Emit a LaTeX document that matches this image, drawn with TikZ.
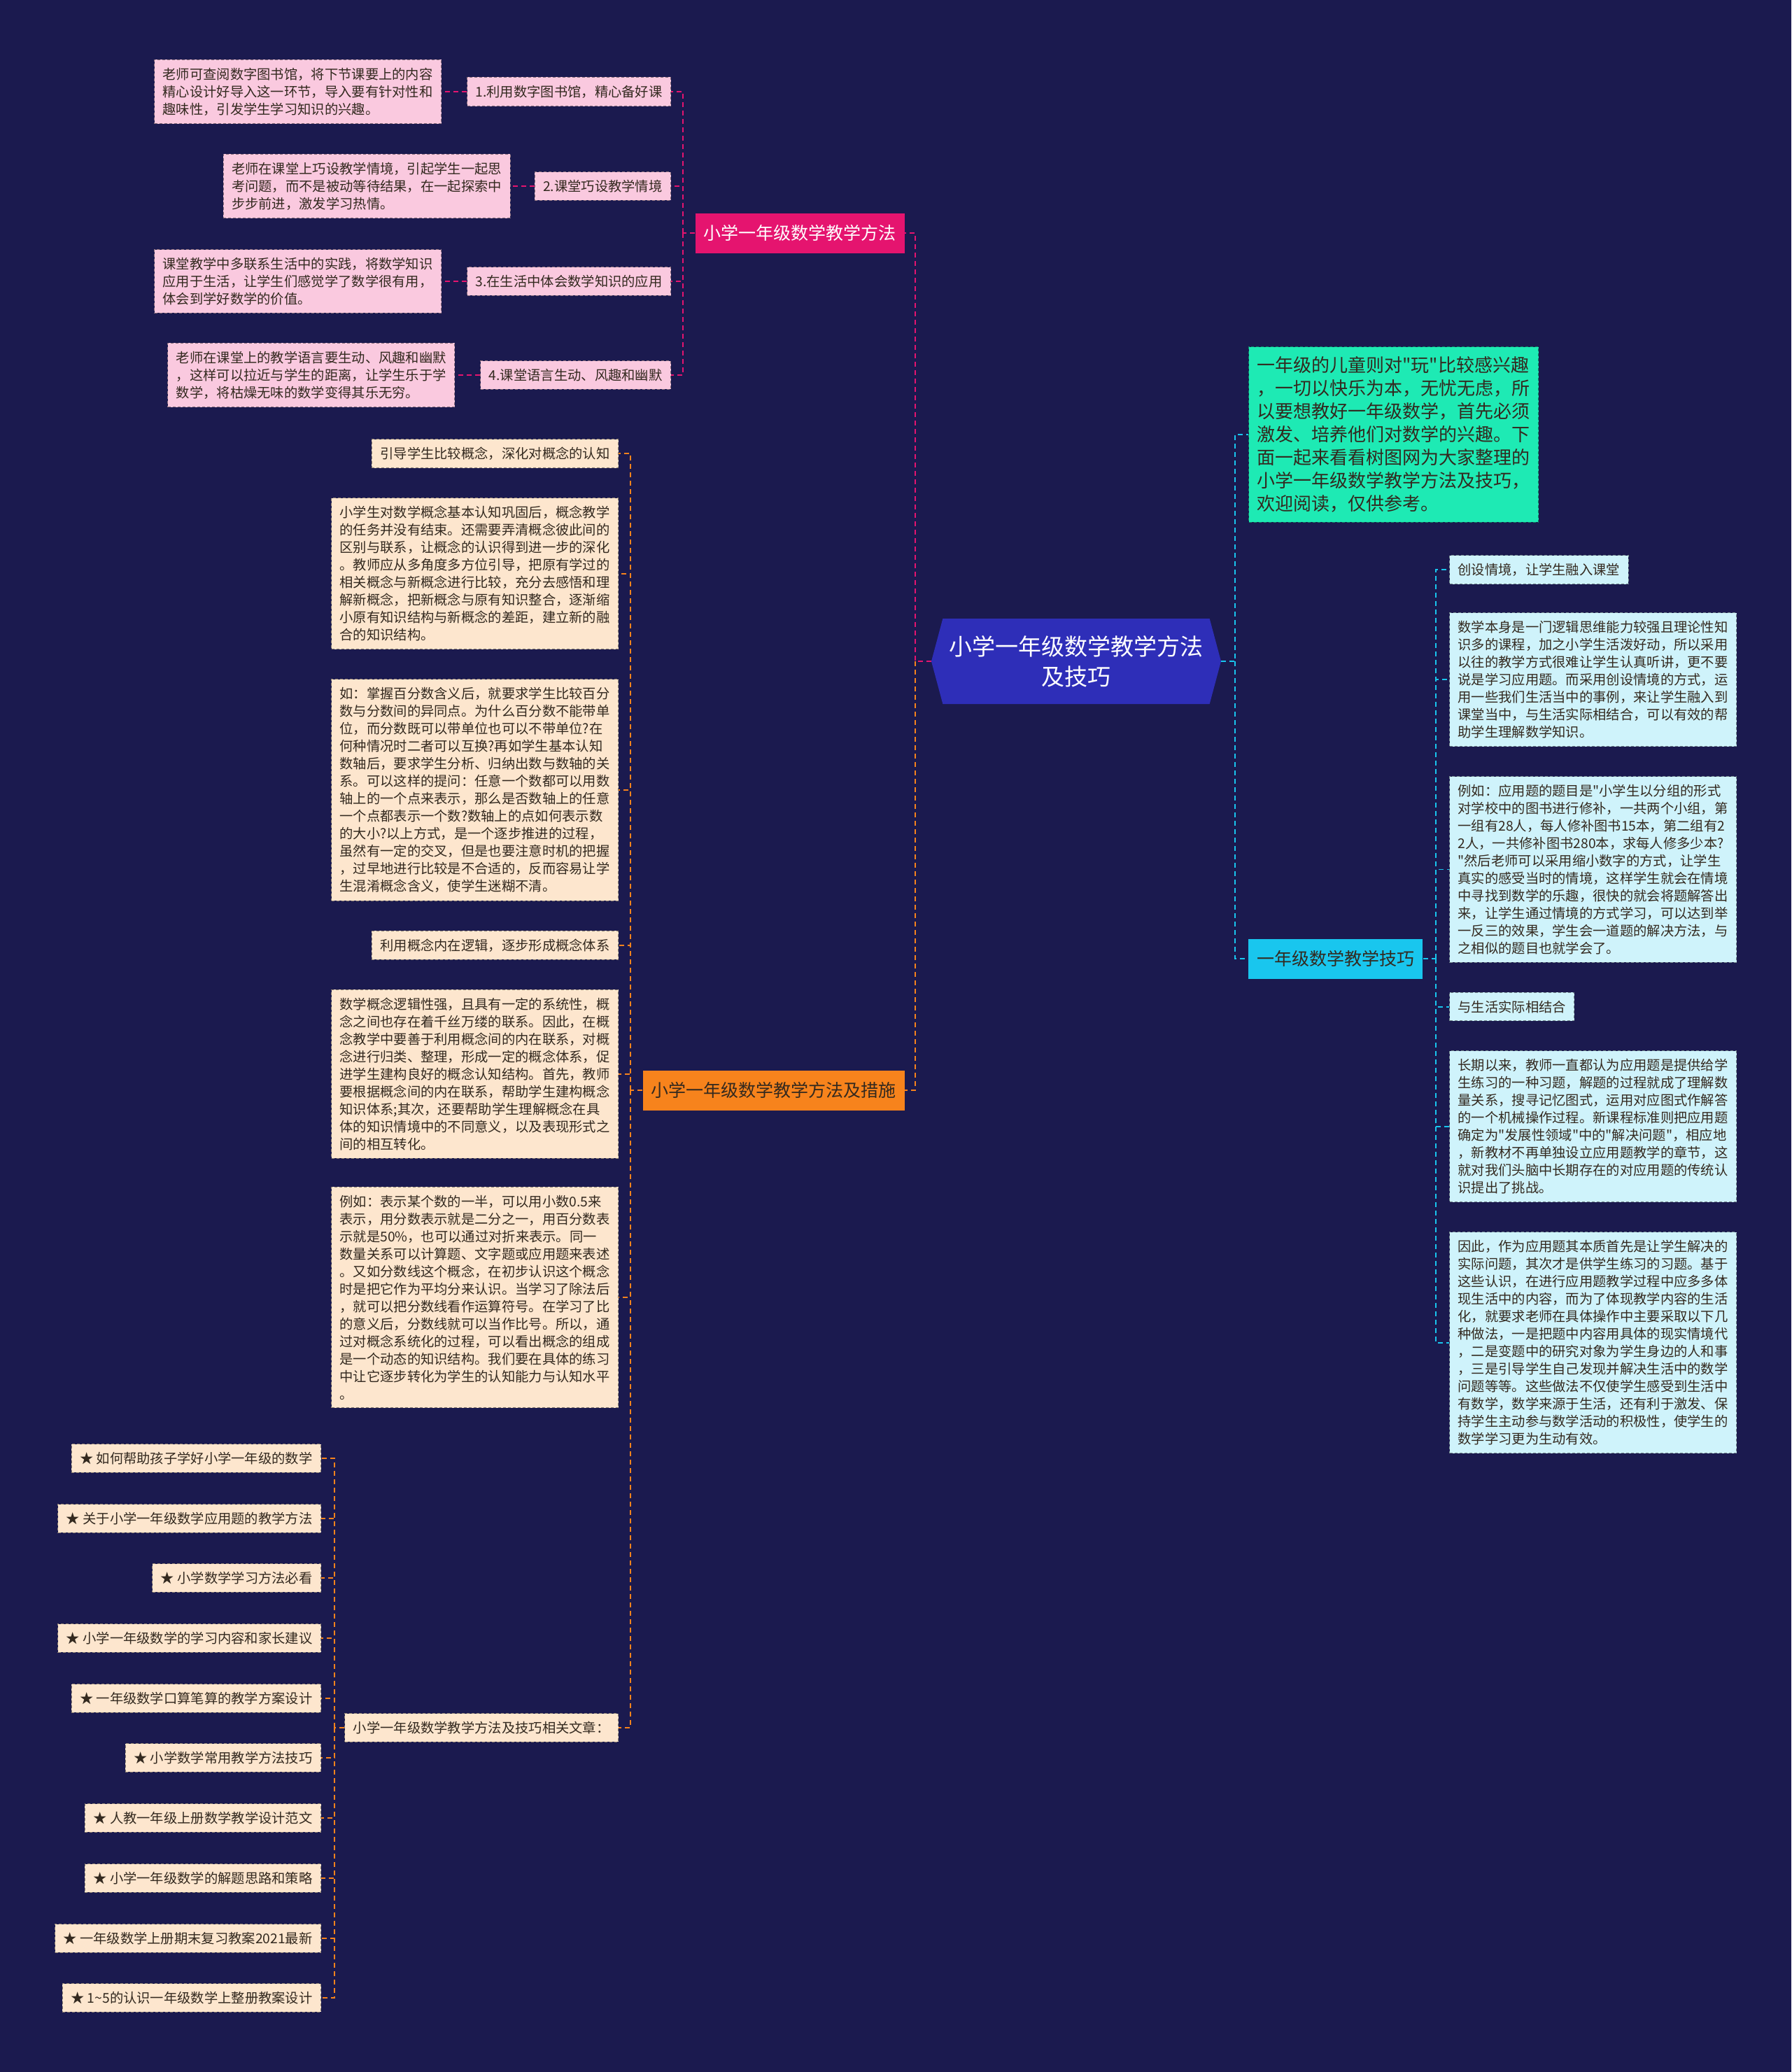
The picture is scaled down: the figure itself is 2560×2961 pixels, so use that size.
\documentclass[tikz,border=0pt]{standalone}
\usepackage{fontspec}
\setmainfont{Noto Sans CJK SC}
\newfontfamily\cjkfont{Noto Sans CJK SC}
\usepackage{tikz}
\usetikzlibrary{positioning, shapes.symbols}
\definecolor{navybg}{HTML}{1B1A4F}
\definecolor{rootblue}{HTML}{2E2EB8}
\definecolor{methodpink}{HTML}{E5146F}
\definecolor{pinkbg}{HTML}{FAC9DF}
\definecolor{measureorange}{HTML}{F7831C}
\definecolor{beigebg}{HTML}{FDE6CE}
\definecolor{introgreen}{HTML}{1EEAB4}
\definecolor{skillcyan}{HTML}{19C6EE}
\definecolor{cyanbg}{HTML}{CFF3FB}
\definecolor{darktext}{HTML}{33291F}
\newcommand{\rootfont}{\cjkfont\fontsize{16.5pt}{21.5pt}\selectfont}
\newcommand{\branchfont}{\cjkfont\fontsize{12.5pt}{15pt}\selectfont}
\newcommand{\introfont}{\cjkfont\fontsize{13pt}{16.5pt}\selectfont}
\newcommand{\leaffont}{\cjkfont\fontsize{9.65pt}{12.5pt}\selectfont}

\begin{document}
\begin{tikzpicture}[x=0.5pt, y=-0.5pt]
    \tikzstyle{root} = [signal, signal to=west and east, signal pointer angle=150, fill=rootblue, text=white, align=center, font=\rootfont, minimum width=207pt, minimum height=61pt, inner xsep=2pt]
    \tikzstyle{branch} = [rectangle, font=\branchfont, inner xsep=6pt, minimum height=28.5pt]
    \tikzstyle{leaf} = [rectangle, dash pattern=on 2pt off 1.5pt, line width=0.5pt, align=left, font=\leaffont, inner xsep=6pt, inner ysep=5.7pt, text=darktext]
    \tikzstyle{pinkleaf} = [leaf, fill=pinkbg, draw=pinkbg!55!black]
    \tikzstyle{beigeleaf} = [leaf, fill=beigebg, draw=beigebg!55!black]
    \tikzstyle{cyanleaf} = [leaf, fill=cyanbg, draw=cyanbg!55!black]
    \tikzstyle{link} = [dash pattern=on 3.5pt off 2.5pt, line width=0.9pt]

    \useasboundingbox (0,0) rectangle (2560,2961);
    \fill [navybg] (0,0) rectangle (2560,2961);

    % centre and main branches
    \node [root] (root) at (1538,945) {小学一年级数学教学方法\\及技巧};
    \node [branch, fill=methodpink, text=white, anchor=east] (method) at (1293,333) {小学一年级数学教学方法};
    \node [branch, fill=measureorange, text=darktext, anchor=east] (measure) at (1293,1558) {小学一年级数学教学方法及措施};
    \node [rectangle, fill=introgreen, draw=introgreen!55!black, dash pattern=on 2pt off 1.5pt, line width=0.5pt, text=darktext, align=left, font=\introfont, inner xsep=6pt, inner ysep=7pt, anchor=west] (intro) at (1784,621) {一年级的儿童则对"玩"比较感兴趣\\，一切以快乐为本，无忧无虑，所\\以要想教好一年级数学，首先必须\\激发、培养他们对数学的兴趣。下\\面一起来看看树图网为大家整理的\\小学一年级数学教学方法及技巧，\\欢迎阅读，仅供参考。};
    \node [branch, fill=skillcyan, text=darktext, anchor=west] (skill) at (1784,1370) {一年级数学教学技巧};

    \coordinate (lhub) at (1308,945);
    \coordinate (rhub) at (1765,945);
    \coordinate (methodhub) at (976,333);
    \coordinate (measurehub) at (901,1558);
    \coordinate (relatedhub) at (478,2469);
    \coordinate (skillhub) at (2052,1370);

    % teaching methods
    \node [pinkleaf, anchor=east] (lib) at (959,131) {1.利用数字图书馆，精心备好课};
    \node [pinkleaf, anchor=east] (scene) at (959,266) {2.课堂巧设教学情境};
    \node [pinkleaf, anchor=east] (life) at (959,402) {3.在生活中体会数学知识的应用};
    \node [pinkleaf, anchor=east] (talk) at (959,536) {4.课堂语言生动、风趣和幽默};
    \node [pinkleaf, left=18pt of lib] (lib-note) {老师可查阅数字图书馆，将下节课要上的内容\\精心设计好导入这一环节，导入要有针对性和\\趣味性，引发学生学习知识的兴趣。};
    \node [pinkleaf, left=17pt of scene] (scene-note) {老师在课堂上巧设教学情境，引起学生一起思\\考问题，而不是被动等待结果，在一起探索中\\步步前进，激发学习热情。};
    \node [pinkleaf, left=18pt of life] (life-note) {课堂教学中多联系生活中的实践，将数学知识\\应用于生活，让学生们感觉学了数学很有用，\\体会到学好数学的价值。};
    \node [pinkleaf, left=18pt of talk] (talk-note) {老师在课堂上的教学语言要生动、风趣和幽默\\，这样可以拉近与学生的距离，让学生乐于学\\数学，将枯燥无味的数学变得其乐无穷。};

    % methods and measures
    \node [beigeleaf, anchor=north east] (compare) at (884,627) {引导学生比较概念，深化对概念的认知};
    \node [beigeleaf, below=21pt of compare.south east, anchor=north east] (compare-a) {小学生对数学概念基本认知巩固后，概念教学\\的任务并没有结束。还需要弄清概念彼此间的\\区别与联系，让概念的认识得到进一步的深化\\。教师应从多角度多方位引导，把原有学过的\\相关概念与新概念进行比较，充分去感悟和理\\解新概念，把新概念与原有知识整合，逐渐缩\\小原有知识结构与新概念的差距，建立新的融\\合的知识结构。};
    \node [beigeleaf, below=21pt of compare-a.south east, anchor=north east] (compare-b) {如：掌握百分数含义后，就要求学生比较百分\\数与分数间的异同点。为什么百分数不能带单\\位，而分数既可以带单位也可以不带单位?在\\何种情况时二者可以互换?再如学生基本认知\\数轴后，要求学生分析、归纳出数与数轴的关\\系。可以这样的提问：任意一个数都可以用数\\轴上的一个点来表示，那么是否数轴上的任意\\一个点都表示一个数?数轴上的点如何表示数\\的大小?以上方式，是一个逐步推进的过程，\\虽然有一定的交叉，但是也要注意时机的把握\\，过早地进行比较是不合适的，反而容易让学\\生混淆概念含义，使学生迷糊不清。};
    \node [beigeleaf, below=21pt of compare-b.south east, anchor=north east] (logic) {利用概念内在逻辑，逐步形成概念体系};
    \node [beigeleaf, below=21pt of logic.south east, anchor=north east] (logic-a) {数学概念逻辑性强，且具有一定的系统性，概\\念之间也存在着千丝万缕的联系。因此，在概\\念教学中要善于利用概念间的内在联系，对概\\念进行归类、整理，形成一定的概念体系，促\\进学生建构良好的概念认知结构。首先，教师\\要根据概念间的内在联系，帮助学生建构概念\\知识体系;其次，还要帮助学生理解概念在具\\体的知识情境中的不同意义，以及表现形式之\\间的相互转化。};
    \node [beigeleaf, below=20pt of logic-a.south east, anchor=north east] (logic-b) {例如：表示某个数的一半，可以用小数0.5来\\表示，用分数表示就是二分之一，用百分数表\\示就是50\%，也可以通过对折来表示。同一\\数量关系可以计算题、文字题或应用题来表述\\。又如分数线这个概念，在初步认识这个概念\\时是把它作为平均分来认识。当学习了除法后\\，就可以把分数线看作运算符号。在学习了比\\的意义后，分数线就可以当作比号。所以，通\\过对概念系统化的过程，可以看出概念的组成\\是一个动态的知识结构。我们要在具体的练习\\中让它逐步转化为学生的认知能力与认知水平\\。};
    \node [beigeleaf, anchor=east] (related) at (884,2469) {小学一年级数学教学方法及技巧相关文章：};

    % related articles
    \node [beigeleaf, anchor=east] (s1) at (459,2084) {★ 如何帮助孩子学好小学一年级的数学};
    \node [beigeleaf, anchor=east] (s2) at (459,2170) {★ 关于小学一年级数学应用题的教学方法};
    \node [beigeleaf, anchor=east] (s3) at (459,2255) {★ 小学数学学习方法必看};
    \node [beigeleaf, anchor=east] (s4) at (459,2341) {★ 小学一年级数学的学习内容和家长建议};
    \node [beigeleaf, anchor=east] (s5) at (459,2427) {★ 一年级数学口算笔算的教学方案设计};
    \node [beigeleaf, anchor=east] (s6) at (459,2512) {★ 小学数学常用教学方法技巧};
    \node [beigeleaf, anchor=east] (s7) at (459,2598) {★ 人教一年级上册数学教学设计范文};
    \node [beigeleaf, anchor=east] (s8) at (459,2684) {★ 小学一年级数学的解题思路和策略};
    \node [beigeleaf, anchor=east] (s9) at (459,2770) {★ 一年级数学上册期末复习教案2021最新};
    \node [beigeleaf, anchor=east] (s10) at (459,2855) {★ 1\textasciitilde5的认识一年级数学上整册教案设计};

    % teaching skills
    \node [cyanleaf, anchor=north west] (situ) at (2071,793) {创设情境，让学生融入课堂};
    \node [cyanleaf, below=20pt of situ.south west, anchor=north west] (situ-a) {数学本身是一门逻辑思维能力较强且理论性知\\识多的课程，加之小学生活泼好动，所以采用\\以往的教学方式很难让学生认真听讲，更不要\\说是学习应用题。而采用创设情境的方式，运\\用一些我们生活当中的事例，来让学生融入到\\课堂当中，与生活实际相结合，可以有效的帮\\助学生理解数学知识。};
    \node [cyanleaf, below=21pt of situ-a.south west, anchor=north west] (situ-b) {例如：应用题的题目是"小学生以分组的形式\\对学校中的图书进行修补，一共两个小组，第\\一组有28人，每人修补图书15本，第二组有2\\2人，一共修补图书280本，求每人修多少本?\\"然后老师可以采用缩小数字的方式，让学生\\真实的感受当时的情境，这样学生就会在情境\\中寻找到数学的乐趣，很快的就会将题解答出\\来，让学生通过情境的方式学习，可以达到举\\一反三的效果，学生会一道题的解决方法，与\\之相似的题目也就学会了。};
    \node [cyanleaf, below=21pt of situ-b.south west, anchor=north west] (real) {与生活实际相结合};
    \node [cyanleaf, below=21pt of real.south west, anchor=north west] (real-a) {长期以来，教师一直都认为应用题是提供给学\\生练习的一种习题，解题的过程就成了理解数\\量关系，搜寻记忆图式，运用对应图式作解答\\的一个机械操作过程。新课程标准则把应用题\\确定为"发展性领域"中的"解决问题"，相应地\\，新教材不再单独设立应用题教学的章节，这\\就对我们头脑中长期存在的对应用题的传统认\\识提出了挑战。};
    \node [cyanleaf, below=21pt of real-a.south west, anchor=north west] (real-b) {因此，作为应用题其本质首先是让学生解决的\\实际问题，其次才是供学生练习的习题。基于\\这些认识，在进行应用题教学过程中应多多体\\现生活中的内容，而为了体现教学内容的生活\\化，就要求老师在具体操作中主要采取以下几\\种做法，一是把题中内容用具体的现实情境代\\，二是变题中的研究对象为学生身边的人和事\\，三是引导学生自己发现并解决生活中的数学\\问题等等。这些做法不仅使学生感受到生活中\\有数学，数学来源于生活，还有利于激发、保\\持学生主动参与数学活动的积极性，使学生的\\数学学习更为生动有效。};

    % connectors
    \path [draw, link, methodpink] (root.west) -- (lhub) |- (method.east);
    \path [draw, link, measureorange] (lhub) |- (measure.east);
    \path [draw, link, skillcyan] (root.east) -- (rhub) |- (intro.west);
    \path [draw, link, skillcyan] (rhub) |- (skill.west);

    \path [draw, link, methodpink] (method.west) -- (methodhub);
    \foreach \n in {lib, scene, life, talk} {
        \path [draw, link, methodpink] (methodhub) |- (\n.east);
        \path [draw, link, methodpink] (\n.west) -- (\n-note.east);
    }
    \path [draw, link, measureorange] (measure.west) -- (measurehub);
    \foreach \n in {compare, compare-a, compare-b, logic, logic-a, logic-b, related}
        \path [draw, link, measureorange] (measurehub) |- (\n.east);
    \path [draw, link, measureorange] (related.west) -- (relatedhub);
    \foreach \n in {s1, s2, s3, s4, s5, s6, s7, s8, s9, s10}
        \path [draw, link, measureorange] (relatedhub) |- (\n.east);
    \path [draw, link, skillcyan] (skill.east) -- (skillhub);
    \foreach \n in {situ, situ-a, situ-b, real, real-a, real-b}
        \path [draw, link, skillcyan] (skillhub) |- (\n.west);
\end{tikzpicture}
\end{document}
